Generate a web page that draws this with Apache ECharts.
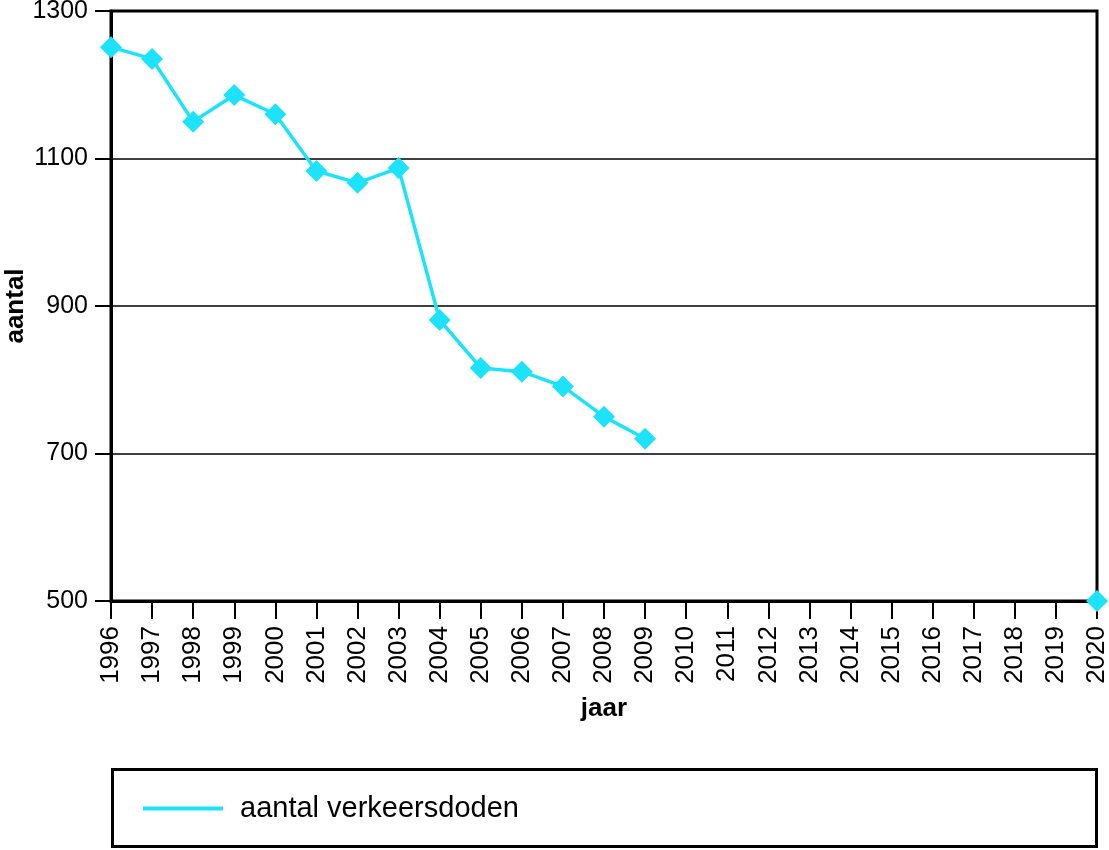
<!DOCTYPE html>
<html>
<head>
<meta charset="utf-8">
<script src="https://cdn.jsdelivr.net/npm/echarts@6/dist/echarts.min.js"></script>
<style>
html,body{margin:0;padding:0;background:#fff;}
#chart{width:1109px;height:850px;}
</style>
</head>
<body>
<div id="chart"></div>
<script>
const years = ['1996','1997','1998','1999','2000','2001','2002','2003','2004','2005','2006','2007','2008','2009','2010','2011','2012','2013','2014','2015','2016','2017','2018','2019','2020'];
const deaths = [1251, 1235, 1150, 1186, 1160, 1083, 1067, 1087, 881, 816, 811, 791, 750, 720, null, null, null, null, null, null, null, null, null, null, 500];
const seriesName = 'aantal verkeersdoden';
const yTicks = {min: 500, max: 1300, interval: 200};
const xTitle = 'jaar';
const yTitle = 'aantal';

const cyan = '#1de2fc';
const font = 'Liberation Sans';
const chart = echarts.init(document.getElementById('chart'), null, {renderer: 'canvas'});
chart.setOption({
  animation: false,
  backgroundColor: '#fff',
  grid: {left: 111, right: 12, top: 11, bottom: 249, show: true, borderColor: '#000', borderWidth: 3,
         containLabel: false, outerBoundsMode: 'none'},
  xAxis: {
    type: 'category', data: years, boundaryGap: false,
    name: xTitle, nameLocation: 'middle', nameGap: 95, nameMoveOverlap: false,
    nameTextStyle: {fontFamily: font, fontWeight: 'bold', fontSize: 26, color: '#000', verticalAlign: 'top'},
    axisLine: {lineStyle: {color: '#000', width: 3}},
    axisTick: {show: true, length: 18, lineStyle: {color: '#000', width: 2}, alignWithLabel: true},
    axisLabel: {rotate: 90, margin: 25, interval: 0, hideOverlap: false, fontFamily: font, fontSize: 26, color: '#000'},
    splitLine: {show: false}
  },
  yAxis: {
    type: 'value', min: yTicks.min, max: yTicks.max, interval: yTicks.interval,
    name: yTitle, nameLocation: 'middle', nameGap: 82, nameRotate: 90, nameMoveOverlap: false,
    nameTextStyle: {fontFamily: font, fontWeight: 'bold', fontSize: 26, color: '#000'},
    axisLine: {show: true, lineStyle: {color: '#000', width: 3}},
    axisTick: {show: true, length: 16, lineStyle: {color: '#000', width: 2}},
    axisLabel: {margin: 23, fontFamily: font, fontSize: 25, color: '#000',
                formatter: function (v) { return String(v); }},
    splitLine: {show: true, lineStyle: {color: '#000', width: 1.5}}
  },
  legend: {
    show: true, left: 138, top: 789, itemWidth: 80, itemHeight: 4,
    icon: 'rect',
    textStyle: {fontFamily: font, fontSize: 29, color: '#000', padding: [0, 0, 0, 12]},
    data: [{name: seriesName, icon: 'rect', itemStyle: {color: cyan}}]
  },
  graphic: [{
    type: 'rect', z: -1,
    shape: {x: 112.5, y: 769.5, width: 984, height: 77},
    style: {fill: '#fff', stroke: '#000', lineWidth: 3}
  }],
  series: [{
    name: seriesName, type: 'line', data: deaths,
    connectNulls: false, clip: false,
    symbol: 'diamond', symbolSize: [22, 22], showSymbol: true,
    lineStyle: {color: cyan, width: 3.5},
    itemStyle: {color: cyan},
    z: 5
  }]
});
</script>
</body>
</html>
